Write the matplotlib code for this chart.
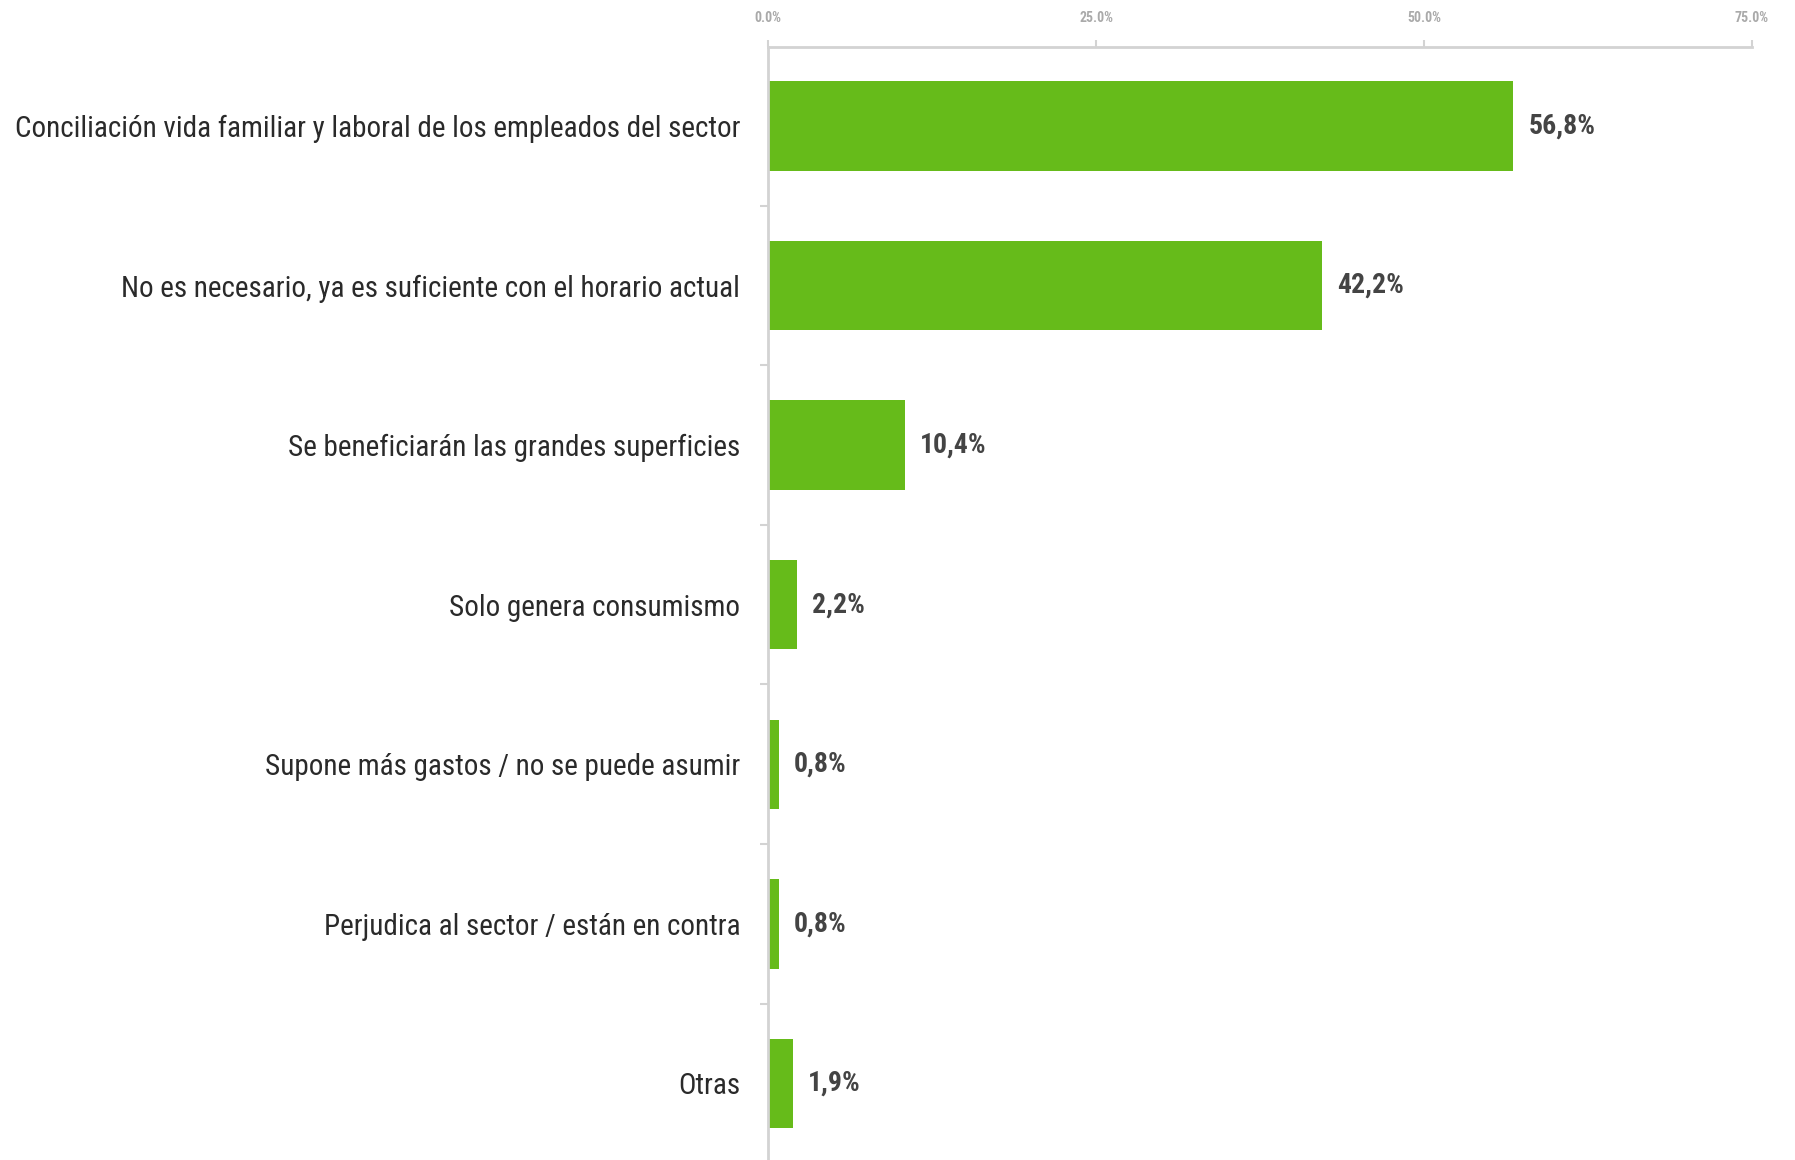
import matplotlib
matplotlib.use('Agg')
import matplotlib.pyplot as plt
from matplotlib.ticker import FixedLocator, FuncFormatter

# Data
categories = [
    'Conciliación vida familiar y laboral de los empleados del sector',
    'No es necesario, ya es suficiente con el horario actual',
    'Se beneficiarán las grandes superficies',
    'Solo genera consumismo',
    'Supone más gastos / no se puede asumir',
    'Perjudica al sector / están en contra',
    'Otras',
]
values = [56.8, 42.2, 10.4, 2.2, 0.8, 0.8, 1.9]
xticks = [0, 25, 50, 75]

green = '#66bb1a'
grey = '#d3d3d3'
text_col = '#2a2a2a'

plt.rcParams['font.family'] = ['Roboto Condensed', 'Roboto', 'DejaVu Sans']

fig = plt.figure(figsize=(17.95, 11.6), dpi=100)
ax = fig.add_axes([0.4279, 0.0, 0.976 - 0.4279, 0.9595])

pos = list(range(len(categories)))
ax.barh(pos, values, height=0.56, color=green)

ax.set_ylim(6.48, -0.495)
ax.set_xlim(0, 75)

# value labels
for y, v in zip(pos, values):
    ax.annotate(f'{v:.1f}%'.replace('.', ','), (v, y), xytext=(11, 0),
                textcoords='offset points', va='center', ha='left',
                fontsize=20, color='#444444', fontweight='bold')

# x axis on top
ax.xaxis.tick_top()
ax.set_xticks(xticks)
ax.xaxis.set_major_formatter(FuncFormatter(lambda x, p: f'{x:.1f}%'))
ax.tick_params(axis='x', which='major', colors=grey, length=5, width=1.5,
               labelsize=10, labelcolor='#aaaaaa', pad=11)
for lbl in ax.get_xticklabels():
    lbl.set_fontweight('bold')

# y labels at bar centers, ticks at the boundaries
ax.set_yticks(pos)
ax.set_yticklabels(categories, fontsize=21, color=text_col)
ax.tick_params(axis='y', which='major', length=0, pad=20)
ax.yaxis.set_minor_locator(FixedLocator([p + 0.5 for p in pos[:-1]]))
ax.tick_params(axis='y', which='minor', length=6, width=1.5, colors=grey)

for side in ['right', 'bottom']:
    ax.spines[side].set_visible(False)
for side in ['top', 'left']:
    ax.spines[side].set_color(grey)
    ax.spines[side].set_linewidth(2)

fig.savefig('out.png', dpi=100)
